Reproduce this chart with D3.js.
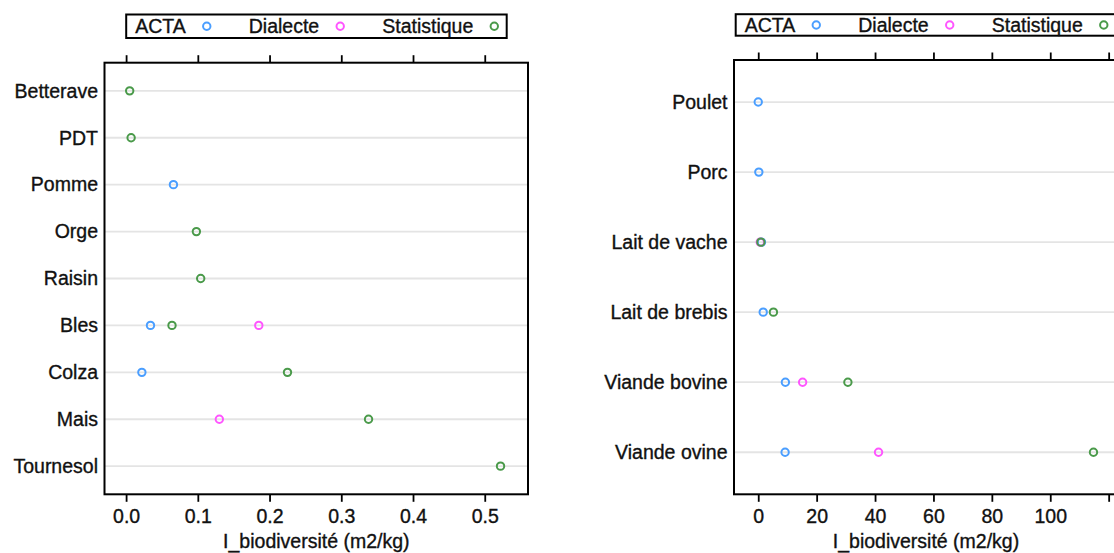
<!DOCTYPE html>
<html>
<head>
<meta charset="utf-8">
<script src="https://cdn.jsdelivr.net/npm/d3@7"></script>
<style>
    body { margin: 0; background: #fff; }
    svg { display: block; font-family: "Liberation Sans", Arial, sans-serif; }
    svg text { stroke: #111; stroke-width: 0.35px; }
</style>
</head>
<body>
<svg width="1114" height="553"></svg>
<script>
// Series (lattice default superpose colours, as they look in the picture)
const seriesNames = ["ACTA", "Dialecte", "Statistique"];
const seriesColors = ["#4a9eff", "#ff55ff", "#4a9a4a"];

// Left panel: crops
const cropCats = ["Betterave", "PDT", "Pomme", "Orge", "Raisin", "Bles", "Colza", "Mais", "Tournesol"];
const cropActa = [null, null, 0.066, null, null, 0.034, 0.022, null, null];
const cropDialecte = [null, null, null, null, null, 0.185, null, 0.130, null];
const cropStat = [0.005, 0.007, null, 0.098, 0.104, 0.064, 0.225, 0.338, 0.522];
const cropTicks = [0, 0.1, 0.2, 0.3, 0.4, 0.5];
const cropTickLabels = ["0.0", "0.1", "0.2", "0.3", "0.4", "0.5"];

// Right panel: animal products
const animalCats = ["Poulet", "Porc", "Lait de vache", "Lait de brebis", "Viande bovine", "Viande ovine"];
const animalActa = [0.0, 0.2, 1.1, 1.7, 9.3, 9.2];
const animalDialecte = [null, null, 0.7, null, 15.2, 41.2];
const animalStat = [null, null, 0.9, 5.2, 30.7, 114.8];
const animalTicks = [0, 20, 40, 60, 80, 100, 120];
const animalTickLabels = ["0", "20", "40", "60", "80", "100", ""];

const axisTitle = "I_biodiversité (m2/kg)";
const fontSize = 19.5;

const svg = d3.select("svg");

function drawPanel(p) {
    const g = svg.append("g");

    const x = d3.scaleLinear().domain(p.xDomain).range([p.left, p.right]);
    const y = d3.scalePoint().domain(p.cats).range([p.top, p.bottom]).padding(0.6);

    // grid lines
    g.append("g")
        .selectAll("line")
        .data(p.cats)
        .join("line")
        .attr("x1", p.left)
        .attr("x2", p.right)
        .attr("y1", d => y(d))
        .attr("y2", d => y(d))
        .attr("stroke", "#e4e4e4")
        .attr("stroke-width", 1.8);

    // points, one group per series
    const series = [p.acta, p.dialecte, p.stat];
    series.forEach((vals, si) => {
        const pts = p.cats.map((c, i) => ({ cat: c, v: vals[i] })).filter(d => d.v != null);
        g.append("g")
            .selectAll("circle")
            .data(pts)
            .join("circle")
            .attr("cx", d => x(d.v))
            .attr("cy", d => y(d.cat))
            .attr("r", 3.7)
            .attr("fill", "none")
            .attr("stroke", seriesColors[si])
            .attr("stroke-width", 2);
    });

    // panel border
    g.append("rect")
        .attr("x", p.left)
        .attr("y", p.top)
        .attr("width", p.right - p.left)
        .attr("height", p.bottom - p.top)
        .attr("fill", "none")
        .attr("stroke", "#000")
        .attr("stroke-width", 2);

    // category labels
    g.append("g")
        .selectAll("text")
        .data(p.cats)
        .join("text")
        .attr("x", p.left - 6.5)
        .attr("y", d => y(d))
        .attr("dy", "0.35em")
        .attr("text-anchor", "end")
        .attr("font-size", fontSize)
        .attr("fill", "#111")
        .text(d => d);

    // top ticks (no labels)
    const top = g.append("g")
        .attr("transform", `translate(0,${p.top})`)
        .call(d3.axisTop(x).tickValues(p.ticks).tickSize(7.5).tickFormat(""));
    top.select(".domain").remove();
    top.selectAll("line").attr("stroke", "#000").attr("stroke-width", 1.8);

    // bottom ticks with labels
    const bottom = g.append("g")
        .attr("transform", `translate(0,${p.bottom})`)
        .call(d3.axisBottom(x).tickValues(p.ticks).tickSize(7.5).tickPadding(7)
            .tickFormat((d, i) => p.tickLabels[i]));
    bottom.select(".domain").remove();
    bottom.selectAll("line").attr("stroke", "#000").attr("stroke-width", 1.8);
    bottom.selectAll("text")
        .attr("font-size", fontSize)
        .attr("font-family", "Liberation Sans, Arial, sans-serif")
        .attr("fill", "#111");

    // axis title
    g.append("text")
        .attr("x", p.titleX)
        .attr("y", 548)
        .attr("text-anchor", "middle")
        .attr("font-size", fontSize)
        .attr("fill", "#111")
        .text(axisTitle);

    // legend
    const lg = g.append("g");
    lg.append("rect")
        .attr("x", p.legend.x)
        .attr("y", p.legend.y)
        .attr("width", 380.5)
        .attr("height", p.legend.h)
        .attr("fill", "none")
        .attr("stroke", "#000")
        .attr("stroke-width", 2);
    const cy = p.legend.y + p.legend.h / 2;
    let cursor = p.legend.x + 9;
    seriesNames.forEach((name, si) => {
        const t = lg.append("text")
            .attr("x", cursor)
            .attr("y", cy)
            .attr("dy", "0.35em")
            .attr("font-size", fontSize)
            .attr("fill", "#111")
            .text(name);
        const w = t.node().getComputedTextLength();
        const cx = cursor + w + 21;
        lg.append("circle")
            .attr("cx", cx)
            .attr("cy", cy)
            .attr("r", 3.7)
            .attr("fill", "none")
            .attr("stroke", seriesColors[si])
            .attr("stroke-width", 2);
        cursor = cx + 42;
    });
}

drawPanel({
    cats: cropCats, acta: cropActa, dialecte: cropDialecte, stat: cropStat,
    xDomain: [-0.0301, 0.5603], ticks: cropTicks, tickLabels: cropTickLabels,
    left: 104.5, right: 528, top: 62.7, bottom: 494.3,
    titleX: 316.3,
    legend: { x: 126.2, y: 14.5, h: 23.5 }
});

drawPanel({
    cats: animalCats, acta: animalActa, dialecte: animalDialecte, stat: animalStat,
    xDomain: [-8.3, 123.2], ticks: animalTicks, tickLabels: animalTickLabels,
    left: 734, right: 1118, top: 60, bottom: 494.3,
    titleX: 926,
    legend: { x: 735.7, y: 14.2, h: 21.5 }
});
</script>
</body>
</html>
